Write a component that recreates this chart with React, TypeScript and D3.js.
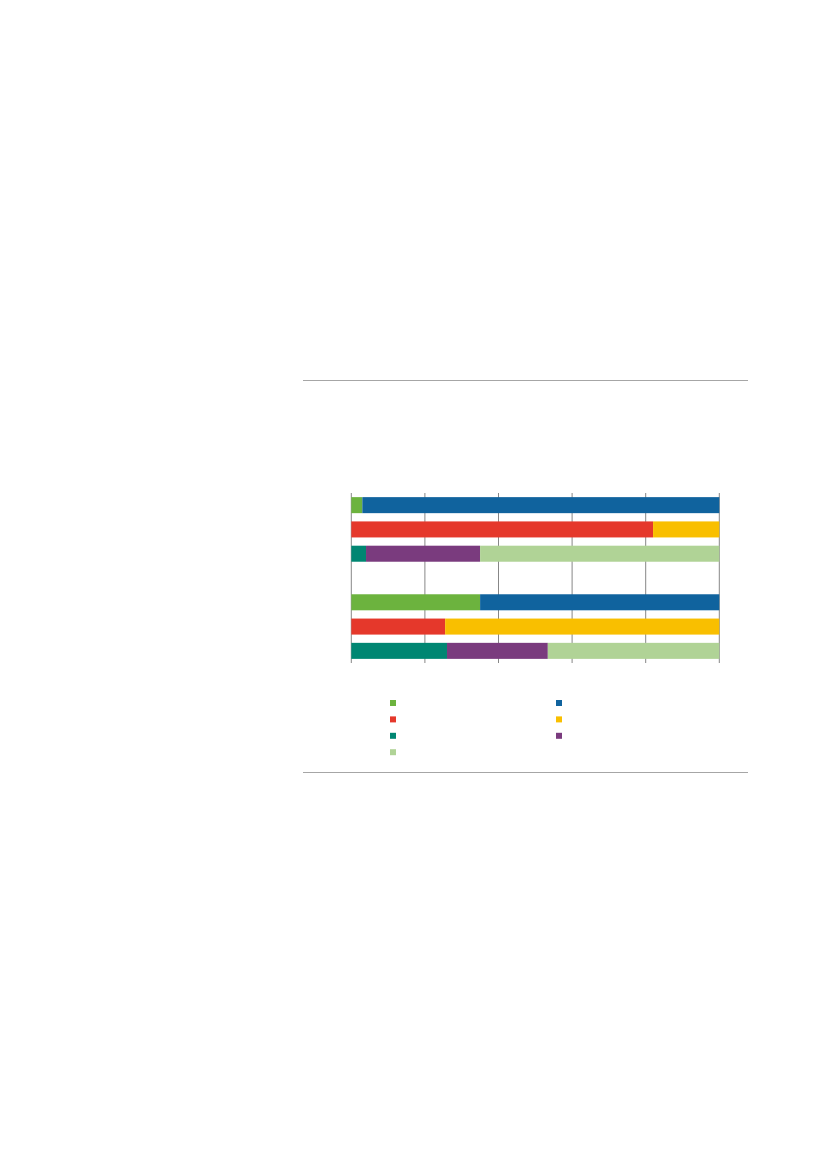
import React from "react";
import * as d3 from "d3";

// Seven slots; the fourth one is an empty spacer row between the two groups.
const categories = ["G1 row 1", "G1 row 2", "G1 row 3", "", "G2 row 1", "G2 row 2", "G2 row 3"];
const seriesNames = ["S1", "S2", "S3", "S4", "S5", "S6", "S7"];
const seriesColors = ["#6cb33e", "#10639e", "#e5382b", "#f9bf00", "#008672", "#7a3b7e", "#b0d396"];
// values per series, one entry per category (percent)
const s1 = [3, 0, 0, 0, 35, 0, 0];
const s2 = [97, 0, 0, 0, 65, 0, 0];
const s3 = [0, 82, 0, 0, 0, 25.5, 0];
const s4 = [0, 18, 0, 0, 0, 74.5, 0];
const s5 = [0, 0, 4, 0, 0, 0, 26];
const s6 = [0, 0, 31, 0, 0, 0, 27.4];
const s7 = [0, 0, 65, 0, 0, 0, 46.6];
const seriesValues = [s1, s2, s3, s4, s5, s6, s7];
const xTicks = [0, 20, 40, 60, 80, 100];

export default function App() {
  const x = d3.scaleLinear().domain([0, 100]).range([351.3, 719.3]);
  const y = d3
    .scaleBand<string>()
    .domain(categories.map((c, i) => String(i)))
    .range([493, 663])
    .paddingInner(0.34)
    .paddingOuter(0.17);

  const rows = categories.map((c, i) => {
    const r: Record<string, number | string> = { key: String(i) };
    seriesNames.forEach((s, j) => (r[s] = seriesValues[j][i]));
    return r;
  });
  const stacked = d3.stack<any>().keys(seriesNames)(rows as any);

  const [y0, y1] = y.range();

  return (
    <div style={{ position: "absolute", left: 0, top: 0 }}>
      <svg width={827} height={1169} style={{ display: "block" }}>
        <rect width={827} height={1169} fill="#ffffff" />
        <line x1={303} x2={748} y1={380.5} y2={380.5} stroke="#a6a6a6" strokeWidth={1.2} />
        <line x1={303} x2={748} y1={772.5} y2={772.5} stroke="#a6a6a6" strokeWidth={1.2} />
        {xTicks.map((t) => (
          <line
            key={t}
            x1={x(t)}
            x2={x(t)}
            y1={y0}
            y2={y1}
            stroke="#878787"
            strokeWidth={1}
          />
        ))}
        {stacked.map((layer, j) =>
          layer.map((d, i) =>
            d[1] - d[0] > 0 ? (
              <rect
                key={`${j}-${i}`}
                x={x(d[0])}
                width={x(d[1]) - x(d[0])}
                y={y(String(i))}
                height={y.bandwidth()}
                fill={seriesColors[j]}
              />
            ) : null
          )
        )}
        {seriesNames.map((s, j) => {
          const col = j % 2;
          const row = Math.floor(j / 2);
          return (
            <rect
              key={s}
              x={390 + col * 166}
              y={700 + row * 16.4}
              width={6}
              height={6}
              fill={seriesColors[j]}
            />
          );
        })}
      </svg>
    </div>
  );
}
